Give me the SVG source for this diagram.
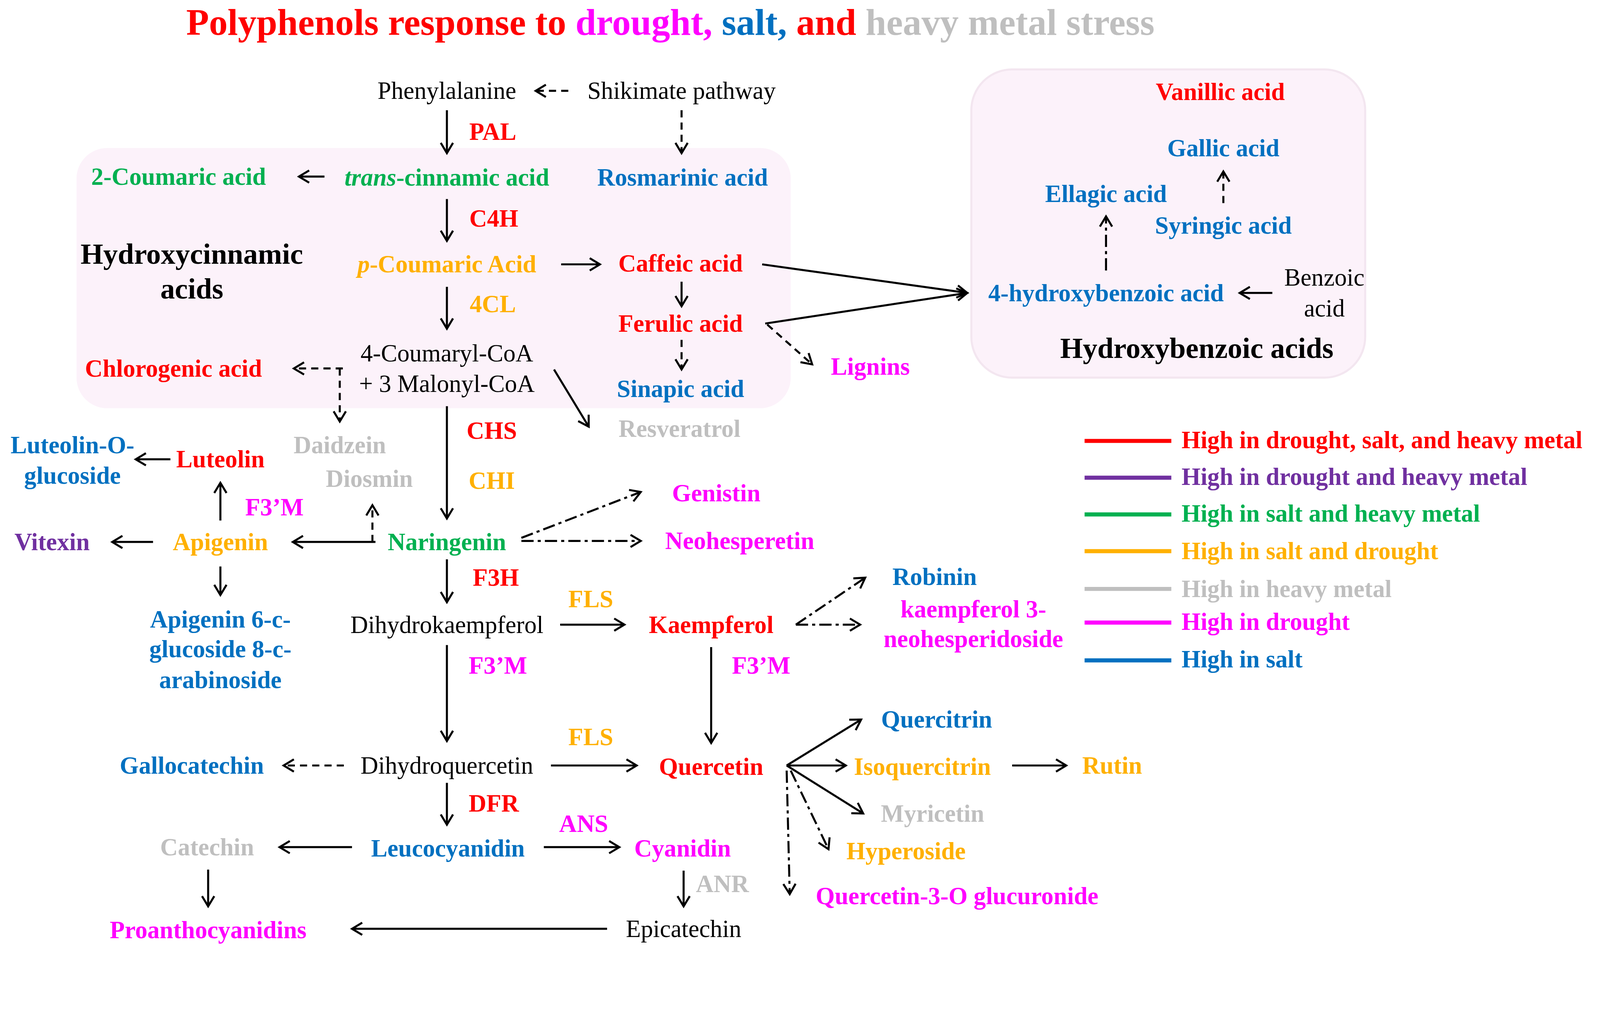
<svg xmlns="http://www.w3.org/2000/svg" width="4398" height="2618" viewBox="0 0 4398 2618">
<style>
text{font-family:"Liberation Serif","Times New Roman",serif;font-size:24px;text-anchor:middle;dominant-baseline:central}
.b{font-weight:bold}.r{fill:#FF0000}.g{fill:#00B050}.bl{fill:#0070C0}.o{fill:#FFB000}.m{fill:#FF00FF}.p{fill:#7030A0}.gy{fill:#BFBFBF}.k{fill:#000}
.h{font-size:28.5px;font-weight:bold}
.l{text-anchor:start}
line,polyline{stroke:#000;stroke-width:2;fill:none;marker-end:url(#a)}
.d{stroke-dasharray:7 5}.dd{stroke-dasharray:12 4 3 4}
.leg line{marker-end:none;stroke-width:4}
</style>
<defs><marker id="a" markerWidth="14" markerHeight="14" refX="11" refY="7" orient="auto" markerUnits="userSpaceOnUse"><polyline points="1,1 11,7 1,13" style="stroke:#000;stroke-width:2;fill:none;marker-end:none;stroke-dasharray:none"/></marker></defs>
<rect width="4398" height="2618" fill="#fff"/>
<g transform="scale(2.612)">
<g id="boxes">
<rect x="75" y="145" width="700" height="255" rx="30" fill="#FCF2FA"/>
<rect x="952" y="68" width="386" height="302" rx="40" fill="#FCF2FA" stroke="#F3E6F0" stroke-width="2"/>
</g>
<text id="title" x="657" y="22" class="b r" style="font-size:36.5px">Polyphenols response to <tspan class="m">drought,</tspan> <tspan class="bl">salt,</tspan> and <tspan class="gy">heavy metal stress</tspan></text>
<g id="connectors">
<line class="d" x1="557" y1="89" x2="525" y2="89"/>
<line x1="438" y1="108" x2="438" y2="150"/>
<line class="d" x1="668" y1="108" x2="668" y2="150"/>
<line x1="318" y1="173" x2="293" y2="173"/>
<line x1="438" y1="195" x2="438" y2="236"/>
<line x1="550" y1="259" x2="588" y2="259"/>
<line x1="438" y1="281" x2="438" y2="322"/>
<line x1="668" y1="276" x2="668" y2="300"/>
<line x1="747" y1="259" x2="948" y2="287"/>
<line x1="750" y1="317" x2="948" y2="287"/>
<line class="d" x1="752" y1="318" x2="796" y2="357"/>
<line class="d" x1="668" y1="333" x2="668" y2="362"/>
<line class="d" x1="336" y1="361" x2="288" y2="361"/>
<line class="d" x1="333" y1="361" x2="333" y2="413"/>
<line x1="543" y1="362" x2="577" y2="418"/>
<line x1="438" y1="398" x2="438" y2="508"/>
<line x1="368" y1="531" x2="287" y2="531"/>
<line class="d" x1="365" y1="531" x2="365" y2="495"/>
<line x1="216" y1="510" x2="216" y2="473"/>
<line x1="167" y1="450" x2="133" y2="450"/>
<line x1="150" y1="531" x2="110" y2="531"/>
<line x1="216" y1="555" x2="216" y2="583"/>
<line class="dd" x1="511" y1="527" x2="628" y2="482"/>
<line class="dd" x1="511" y1="530" x2="628" y2="530"/>
<line x1="438" y1="548" x2="438" y2="590"/>
<line x1="549" y1="612" x2="612" y2="612"/>
<line class="dd" x1="780" y1="612" x2="848" y2="566"/>
<line class="dd" x1="780" y1="612" x2="843" y2="612"/>
<line x1="438" y1="632" x2="438" y2="726"/>
<line x1="697" y1="634" x2="697" y2="728"/>
<line class="d" x1="337" y1="750" x2="278" y2="750"/>
<line x1="540" y1="750" x2="624" y2="750"/>
<line x1="771" y1="750" x2="844" y2="705"/>
<line x1="771" y1="750" x2="829" y2="750"/>
<line x1="992" y1="750" x2="1045" y2="750"/>
<line x1="771" y1="750" x2="846" y2="797"/>
<line class="dd" x1="775" y1="755" x2="812" y2="832"/>
<line class="dd" x1="771" y1="755" x2="774" y2="876"/>
<line x1="438" y1="767" x2="438" y2="808"/>
<line x1="345" y1="830" x2="274" y2="830"/>
<line x1="533" y1="830" x2="607" y2="830"/>
<line x1="204" y1="852" x2="204" y2="888"/>
<line x1="670" y1="853" x2="670" y2="888"/>
<line x1="595" y1="910" x2="345" y2="910"/>
<line class="dd" x1="1084" y1="265" x2="1084" y2="212"/>
<line class="d" x1="1199" y1="199" x2="1199" y2="168"/>
<line x1="1247" y1="287" x2="1215" y2="287"/>
</g>
<g id="nodes">
<text x="438" y="89">Phenylalanine</text>
<text x="668" y="89">Shikimate pathway</text>
<text x="483" y="129" class="b r">PAL</text>
<text x="175" y="173" class="b g">2-Coumaric acid</text>
<text x="438" y="174" class="b g"><tspan font-style="italic">trans</tspan>-cinnamic acid</text>
<text x="669" y="174" class="b bl">Rosmarinic acid</text>
<text x="484" y="214" class="b r">C4H</text>
<text x="188" y="249" class="h">Hydroxycinnamic</text>
<text x="188" y="283" class="h">acids</text>
<text x="438" y="259" class="b o"><tspan font-style="italic">p</tspan>-Coumaric Acid</text>
<text x="667" y="258" class="b r">Caffeic acid</text>
<text x="483" y="298" class="b o">4CL</text>
<text x="667" y="317" class="b r">Ferulic acid</text>
<text x="438" y="346">4-Coumaryl-CoA</text>
<text x="438" y="376">+ 3 Malonyl-CoA</text>
<text x="170" y="361" class="b r">Chlorogenic acid</text>
<text x="853" y="359" class="b m">Lignins</text>
<text x="667" y="381" class="b bl">Sinapic acid</text>
<text x="666" y="420" class="b gy">Resveratrol</text>
<text x="482" y="422" class="b r">CHS</text>
<text x="333" y="436" class="b gy">Daidzein</text>
<text x="71" y="436" class="b bl">Luteolin-O-</text>
<text x="71" y="466" class="b bl">glucoside</text>
<text x="216" y="450" class="b r">Luteolin</text>
<text x="362" y="469" class="b gy">Diosmin</text>
<text x="482" y="471" class="b o">CHI</text>
<text x="269" y="497" class="b m">F3’M</text>
<text x="702" y="483" class="b m">Genistin</text>
<text x="51" y="531" class="b p">Vitexin</text>
<text x="216" y="531" class="b o">Apigenin</text>
<text x="438" y="531" class="b g">Naringenin</text>
<text x="725" y="530" class="b m">Neohesperetin</text>
<text x="486" y="566" class="b r">F3H</text>
<text x="916" y="565" class="b bl">Robinin</text>
<text x="579" y="587" class="b o">FLS</text>
<text x="216" y="607" class="b bl">Apigenin 6-c-</text>
<text x="216" y="636" class="b bl">glucoside 8-c-</text>
<text x="216" y="666" class="b bl">arabinoside</text>
<text x="438" y="612">Dihydrokaempferol</text>
<text x="697" y="612" class="b r">Kaempferol</text>
<text x="954" y="597" class="b m">kaempferol 3-</text>
<text x="954" y="626" class="b m">neohesperidoside</text>
<text x="488" y="652" class="b m">F3’M</text>
<text x="746" y="652" class="b m">F3’M</text>
<text x="918" y="705" class="b bl">Quercitrin</text>
<text x="579" y="722" class="b o">FLS</text>
<text x="188" y="750" class="b bl">Gallocatechin</text>
<text x="438" y="750">Dihydroquercetin</text>
<text x="697" y="751" class="b r">Quercetin</text>
<text x="904" y="751" class="b o">Isoquercitrin</text>
<text x="1090" y="750" class="b o">Rutin</text>
<text x="484" y="787" class="b r">DFR</text>
<text x="914" y="797" class="b gy">Myricetin</text>
<text x="572" y="807" class="b m">ANS</text>
<text x="203" y="830" class="b gy">Catechin</text>
<text x="439" y="831" class="b bl">Leucocyanidin</text>
<text x="669" y="831" class="b m">Cyanidin</text>
<text x="888" y="834" class="b o">Hyperoside</text>
<text x="708" y="866" class="b gy">ANR</text>
<text x="938" y="878" class="b m">Quercetin-3-O glucuronide</text>
<text x="204" y="911" class="b m">Proanthocyanidins</text>
<text x="670" y="910">Epicatechin</text>
<text x="1196" y="90" class="b r">Vanillic acid</text>
<text x="1199" y="145" class="b bl">Gallic acid</text>
<text x="1084" y="190" class="b bl">Ellagic acid</text>
<text x="1199" y="221" class="b bl">Syringic acid</text>
<text x="1084" y="287" class="b bl">4-hydroxybenzoic acid</text>
<text x="1298" y="272">Benzoic</text>
<text x="1298" y="302">acid</text>
<text x="1173" y="341" class="h">Hydroxybenzoic acids</text>
</g>
<g id="legend" class="leg">
<line x1="1063" y1="432" x2="1148" y2="432" style="stroke:#FF0000"/>
<line x1="1063" y1="468" x2="1148" y2="468" style="stroke:#7030A0"/>
<line x1="1063" y1="504" x2="1148" y2="504" style="stroke:#00B050"/>
<line x1="1063" y1="540" x2="1148" y2="540" style="stroke:#FFB000"/>
<line x1="1063" y1="577" x2="1148" y2="577" style="stroke:#BFBFBF"/>
<line x1="1063" y1="610" x2="1148" y2="610" style="stroke:#FF00FF"/>
<line x1="1063" y1="647" x2="1148" y2="647" style="stroke:#0070C0"/>
<text x="1158" y="431" class="b r l">High in drought, salt, and heavy metal</text>
<text x="1158" y="467" class="b p l">High in drought and heavy metal</text>
<text x="1158" y="503" class="b g l">High in salt and heavy metal</text>
<text x="1158" y="540" class="b o l">High in salt and drought</text>
<text x="1158" y="577" class="b gy l">High in heavy metal</text>
<text x="1158" y="609" class="b m l">High in drought</text>
<text x="1158" y="646" class="b bl l">High in salt</text>
</g>
</g>
</svg>
